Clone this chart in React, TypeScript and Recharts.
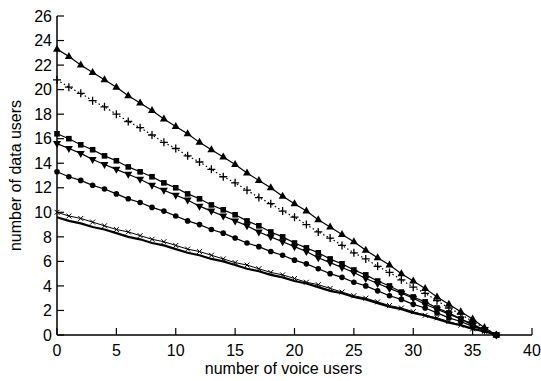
import React from 'react';
import { LineChart, Line, XAxis, YAxis } from 'recharts';

// number of voice users (x) and the six capacity curves
const voiceUsers = [
  0, 1, 2, 3, 4, 5, 6, 7, 8, 9, 10, 11, 12, 13, 14, 15, 16, 17, 18, 19,
  20, 21, 22, 23, 24, 25, 26, 27, 28, 29, 30, 31, 32, 33, 34, 35, 36, 37,
];
const triUpSeries = [
  23.3, 22.7, 22.0, 21.4, 20.8, 20.2, 19.5, 18.9, 18.3, 17.6, 17.0, 16.4, 15.7, 15.1, 14.5, 13.9, 13.2, 12.6, 12.0,
  11.3, 10.7, 10.1, 9.4, 8.8, 8.2, 7.6, 6.9, 6.3, 5.7, 5.0, 4.4, 3.8, 3.1, 2.5, 1.9, 1.3, 0.6, 0,
];
const plusSeries = [
  20.8, 20.2, 19.7, 19.1, 18.6, 18.0, 17.4, 16.9, 16.3, 15.7, 15.2, 14.6, 14.1, 13.5, 12.9, 12.4, 11.8, 11.2, 10.7,
  10.1, 9.6, 9.0, 8.4, 7.9, 7.3, 6.7, 6.2, 5.6, 5.1, 4.5, 3.9, 3.4, 2.8, 2.2, 1.7, 1.1, 0.6, 0,
];
const squareSeries = [
  16.4, 16.0, 15.5, 15.1, 14.6, 14.2, 13.7, 13.3, 12.9, 12.4, 12.0, 11.5, 11.1, 10.6, 10.2, 9.8, 9.3, 8.9, 8.4,
  8.0, 7.5, 7.1, 6.7, 6.2, 5.8, 5.3, 4.9, 4.4, 4.0, 3.5, 3.1, 2.7, 2.2, 1.8, 1.3, 0.9, 0.4, 0,
];
const triDownSeries = [
  15.6, 15.2, 14.8, 14.3, 13.9, 13.5, 13.1, 12.7, 12.2, 11.8, 11.4, 11.0, 10.5, 10.1, 9.7, 9.3, 8.9, 8.4, 8.0,
  7.6, 7.2, 6.8, 6.3, 5.9, 5.5, 5.1, 4.6, 4.2, 3.8, 3.4, 3.0, 2.5, 2.1, 1.7, 1.3, 0.8, 0.4, 0,
];
const circleSeries = [
  13.3, 12.9, 12.6, 12.2, 11.9, 11.5, 11.1, 10.8, 10.4, 10.1, 9.7, 9.3, 9.0, 8.6, 8.3, 7.9, 7.5, 7.2, 6.8,
  6.5, 6.1, 5.8, 5.4, 5.0, 4.7, 4.3, 4.0, 3.6, 3.2, 2.9, 2.5, 2.2, 1.8, 1.4, 1.1, 0.7, 0.4, 0,
];
const crossSeries = [
  10.0, 9.7, 9.5, 9.2, 8.9, 8.6, 8.4, 8.1, 7.8, 7.6, 7.3, 7.0, 6.8, 6.5, 6.2, 5.9, 5.7, 5.4, 5.1,
  4.9, 4.6, 4.3, 4.1, 3.8, 3.5, 3.2, 3.0, 2.7, 2.4, 2.2, 1.9, 1.6, 1.4, 1.1, 0.8, 0.5, 0.3, 0,
];
const plainSeries = [
  9.6, 9.3, 9.1, 8.8, 8.6, 8.3, 8.0, 7.8, 7.5, 7.3, 7.0, 6.7, 6.5, 6.2, 6.0, 5.7, 5.4, 5.2, 4.9,
  4.7, 4.4, 4.2, 3.9, 3.6, 3.4, 3.1, 2.9, 2.6, 2.3, 2.1, 1.8, 1.6, 1.3, 1.0, 0.8, 0.5, 0.3, 0,
];

const xTicks = [0, 5, 10, 15, 20, 25, 30, 35, 40];
const yTicks = [0, 2, 4, 6, 8, 10, 12, 14, 16, 18, 20, 22, 24, 26];

const data = voiceUsers.map((x, i) => ({
  x,
  triUp: triUpSeries[i],
  plus: plusSeries[i],
  square: squareSeries[i],
  triDown: triDownSeries[i],
  circle: circleSeries[i],
  cross: crossSeries[i],
  plain: plainSeries[i],
}));

const INK = '#000';
const FONT = '"Liberation Sans", Arial, Helvetica, sans-serif';

const TriUpDot = ({ cx, cy }: any) =>
  cx == null ? null : <path d={`M${cx},${cy - 4.5}L${cx + 4},${cy + 2.5}L${cx - 4},${cy + 2.5}Z`} fill={INK} />;

const TriDownDot = ({ cx, cy }: any) =>
  cx == null ? null : <path d={`M${cx},${cy + 4.5}L${cx + 4},${cy - 2.5}L${cx - 4},${cy - 2.5}Z`} fill={INK} />;

const SquareDot = ({ cx, cy }: any) =>
  cx == null ? null : <rect x={cx - 2.8} y={cy - 2.8} width={5.6} height={5.6} fill={INK} />;

const CircleDot = ({ cx, cy }: any) =>
  cx == null ? null : <circle cx={cx} cy={cy} r={2.8} fill={INK} />;

const PlusDot = ({ cx, cy }: any) =>
  cx == null ? null : (
    <path d={`M${cx - 4},${cy}H${cx + 4}M${cx},${cy - 4}V${cy + 4}`} stroke={INK} strokeWidth={1.3} fill="none" />
  );

const CrossDot = ({ cx, cy }: any) =>
  cx == null ? null : (
    <path d={`M${cx - 2.5},${cy - 2.5}L${cx + 2.5},${cy + 2.5}M${cx + 2.5},${cy - 2.5}L${cx - 2.5},${cy + 2.5}`} stroke={INK} strokeWidth={1} fill="none" />
  );

const tickStyle = { fill: INK, fontSize: 16, fontFamily: FONT };

export default function App() {
  return (
    <div style={{ position: 'absolute', left: 0, top: 0, width: 541, height: 381, background: '#fff', fontFamily: FONT }}>
      <LineChart width={541} height={381} data={data} margin={{ top: 16, right: 9, bottom: 0, left: 0 }}>
        <XAxis
          type="number"
          dataKey="x"
          domain={[0, 40]}
          ticks={xTicks}
          interval={0}
          height={46}
          tickSize={-7}
          tickMargin={17}
          axisLine={{ stroke: INK, strokeWidth: 1.5 }}
          tickLine={{ stroke: INK, strokeWidth: 1.2 }}
          tick={tickStyle}
          label={{ value: 'number of voice users', position: 'insideBottom', offset: 7, dx: -11, fill: INK, fontSize: 16, fontFamily: FONT }}
        />
        <YAxis
          type="number"
          domain={[0, 26]}
          ticks={yTicks}
          interval={0}
          width={57}
          tickSize={-7}
          tickMargin={12}
          axisLine={{ stroke: INK, strokeWidth: 1.5 }}
          tickLine={{ stroke: INK, strokeWidth: 1.2 }}
          tick={tickStyle}
          label={{ value: 'number of data users', angle: -90, position: 'insideLeft', offset: 15, style: { textAnchor: 'middle' }, fill: INK, fontSize: 16, fontFamily: FONT }}
        />
        <Line dataKey="plain" stroke={INK} strokeWidth={2.2} dot={false} isAnimationActive={false} />
        <Line dataKey="cross" stroke={INK} strokeWidth={1} dot={<CrossDot />} isAnimationActive={false} />
        <Line dataKey="circle" stroke={INK} strokeWidth={1.2} dot={<CircleDot />} isAnimationActive={false} />
        <Line dataKey="triDown" stroke={INK} strokeWidth={1.2} dot={<TriDownDot />} isAnimationActive={false} />
        <Line dataKey="square" stroke={INK} strokeWidth={1.2} dot={<SquareDot />} isAnimationActive={false} />
        <Line dataKey="plus" stroke={INK} strokeWidth={1.2} strokeDasharray="1.5 2.5" dot={<PlusDot />} isAnimationActive={false} />
        <Line dataKey="triUp" stroke={INK} strokeWidth={1.2} dot={<TriUpDot />} isAnimationActive={false} />
      </LineChart>
    </div>
  );
}
